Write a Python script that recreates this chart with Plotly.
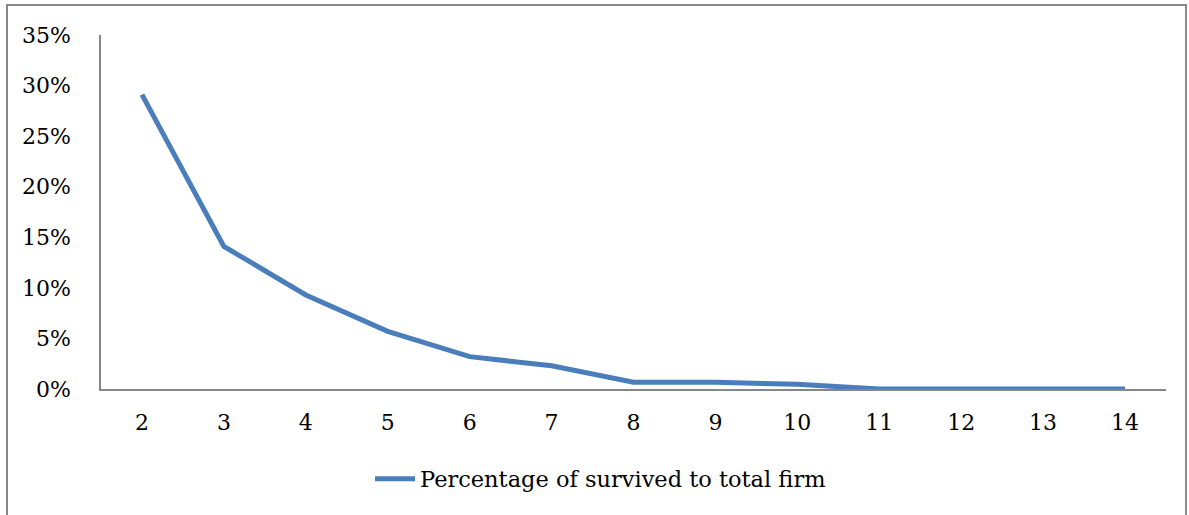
import plotly.graph_objects as go

years = [2, 3, 4, 5, 6, 7, 8, 9, 10, 11, 12, 13, 14]
survived_pct = [0.291, 0.141, 0.093, 0.057, 0.032, 0.023, 0.0066, 0.0066, 0.0046, 0.0, 0.0, 0.0, 0.0]
series_name = "Percentage of survived to total firm"

W, H = 1189, 515
L, R, T, B = 101, 23, 35, 126
pw, ph = W - L - R, H - T - B

fig = go.Figure()
fig.add_trace(go.Scatter(
    x=years, y=survived_pct, mode="lines", name=series_name,
    line=dict(color="#4A7EBB", width=5),
))

font_family = "DejaVu Serif, Liberation Serif, serif"
fig.update_layout(
    width=W, height=H,
    margin=dict(l=L, r=R, t=T, b=B),
    paper_bgcolor="white", plot_bgcolor="white",
    font=dict(family=font_family, size=22, color="black"),
    showlegend=True,
    legend=dict(orientation="h", x=0.5 - 33 / pw, xanchor="center", y=(T + ph - 479) / ph, yanchor="middle",
                font=dict(size=22.5), itemwidth=40),
    xaxis=dict(range=[1.5, 14.5], tickvals=years, ticktext=[str(v) for v in years],
               showgrid=False, zeroline=False, showline=True, linecolor="#868686", linewidth=1.5,
               ticks="", ticklabelstandoff=13, fixedrange=True),
    yaxis=dict(range=[0, 0.35], dtick=0.05, tickformat=".0%", showgrid=False, zeroline=False,
               showline=True, linecolor="#868686", linewidth=1.5, ticks="", ticklabelstandoff=24,
               fixedrange=True),
    shapes=[dict(type="rect", xref="paper", yref="paper",
                 x0=(7 - L) / pw, x1=(1186 - L) / pw, y0=-0.5, y1=1 + (T - 5) / ph,
                 line=dict(color="#888888", width=2), fillcolor="rgba(0,0,0,0)", layer="below")],
)

fig.write_html("out.html", config={"displayModeBar": False},
               post_script="document.body.style.margin='0';")
